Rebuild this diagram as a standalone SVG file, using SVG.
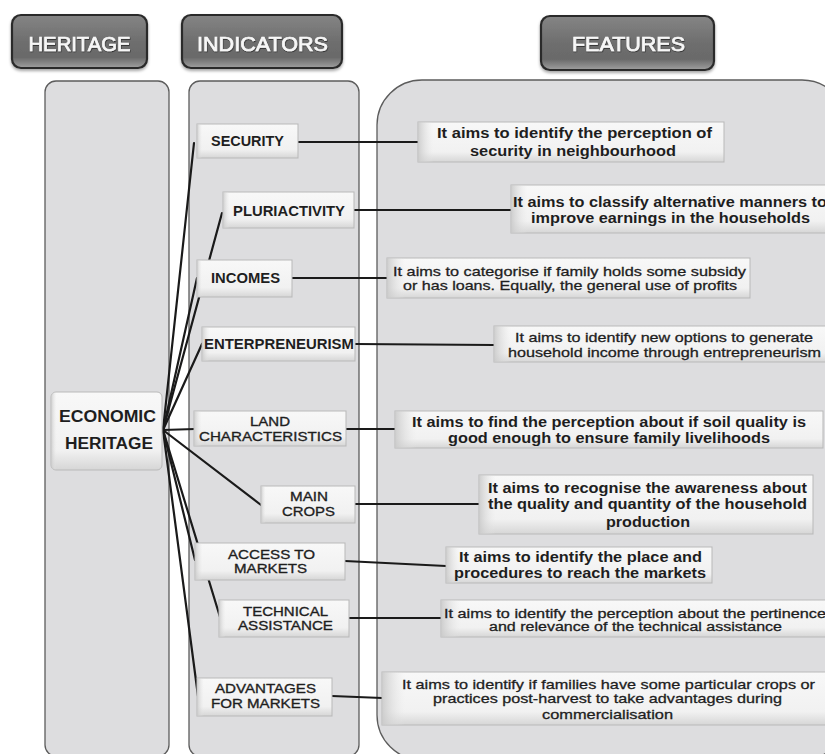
<svg xmlns="http://www.w3.org/2000/svg" width="825" height="754" viewBox="0 0 825 754">
<defs>
<linearGradient id="btnGrad" x1="0" y1="0" x2="0" y2="1">
<stop offset="0" stop-color="#858585"/>
<stop offset="0.5" stop-color="#6e6e6e"/>
<stop offset="0.8" stop-color="#6a6a6a"/>
<stop offset="1" stop-color="#a0a0a0"/>
</linearGradient>
<linearGradient id="nodeGrad" x1="0" y1="0" x2="0" y2="1">
<stop offset="0" stop-color="#f8f8f8"/>
<stop offset="0.75" stop-color="#f1f1f1"/>
<stop offset="1" stop-color="#d6d6d6"/>
</linearGradient>
<linearGradient id="leftBevel" x1="0" y1="0" x2="1" y2="0">
<stop offset="0" stop-color="#c9c9c9" stop-opacity="0.9"/>
<stop offset="0.05" stop-color="#e6e6e6" stop-opacity="0"/>
</linearGradient>
<filter id="shadow" x="-10%" y="-20%" width="120%" height="150%">
<feDropShadow dx="0" dy="2" stdDeviation="1.5" flood-color="#000" flood-opacity="0.35"/>
</filter>
<filter id="txtShadow" x="-5%" y="-20%" width="110%" height="150%">
<feDropShadow dx="0.5" dy="1" stdDeviation="0.6" flood-color="#222" flood-opacity="0.8"/>
</filter>
</defs>
<style>
.panel{fill:#dddddf;stroke:#5c5c5c;stroke-width:1.3}
.btn{fill:url(#btnGrad);stroke:#2a2a2a;stroke-width:2.2}
.btnText{font-family:"Liberation Sans",Arial,sans-serif;font-size:21px;fill:#f7f7f7;stroke:#f7f7f7;stroke-width:0.7;text-anchor:middle;filter:url(#txtShadow)}
.node{fill:url(#nodeGrad);stroke:#b9b9b9;stroke-width:1}
.bev{fill:url(#leftBevel);stroke:none}
.lbl{font-family:"Liberation Sans",Arial,sans-serif;font-size:14px;font-weight:bold;fill:#1e1e1e;text-anchor:middle}
.med{font-family:"Liberation Sans",Arial,sans-serif;font-size:13.5px;fill:#1e1e1e;stroke:#1e1e1e;stroke-width:0.35;text-anchor:middle}
.ft{font-family:"Liberation Sans",Arial,sans-serif;font-size:14px;font-weight:bold;fill:#1e1e1e;text-anchor:middle}
.fr{font-family:"Liberation Sans",Arial,sans-serif;font-size:13.5px;fill:#1e1e1e;stroke:#1e1e1e;stroke-width:0.3;text-anchor:middle}
.fs{font-family:"Liberation Sans",Arial,sans-serif;font-size:12.5px;fill:#1e1e1e;stroke:#1e1e1e;stroke-width:0.3;text-anchor:middle}
.big{font-family:"Liberation Sans",Arial,sans-serif;font-size:16px;font-weight:bold;fill:#1e1e1e;text-anchor:middle}
.conn line{stroke:#1a1a1a;stroke-width:2.2;stroke-linecap:round}
</style>
<rect width="825" height="754" fill="#ffffff"/>

<!-- Panels -->
<g id="panels">
<rect class="panel" x="45" y="81" width="124" height="675" rx="11"/>
<rect class="panel" x="189" y="81" width="170" height="675" rx="11"/>
<rect class="panel" x="377" y="80" width="470" height="680" rx="45"/>
</g>

<!-- Header buttons -->
<g id="hdr-heritage" filter="url(#shadow)">
<rect class="btn" x="12" y="15" width="135" height="53" rx="9"/>
<text class="btnText" x="79.5" y="50.5" textLength="102" lengthAdjust="spacingAndGlyphs">HERITAGE</text>
</g>
<g id="hdr-indicators" filter="url(#shadow)">
<rect class="btn" x="182" y="15" width="160" height="53" rx="9"/>
<text class="btnText" x="262.5" y="50.5" textLength="131" lengthAdjust="spacingAndGlyphs">INDICATORS</text>
</g>
<g id="hdr-features" filter="url(#shadow)">
<rect class="btn" x="541" y="16" width="173" height="54" rx="9"/>
<text class="btnText" x="628.5" y="51" textLength="113" lengthAdjust="spacingAndGlyphs">FEATURES</text>
</g>

<!-- Connectors -->
<g id="connectors" class="conn">
<line x1="163" y1="430" x2="194" y2="143"/>
<line x1="163" y1="430" x2="222" y2="213"/>
<line x1="163" y1="430" x2="197" y2="278"/>
<line x1="163" y1="430" x2="202" y2="344"/>
<line x1="163" y1="430" x2="195" y2="429"/>
<line x1="163" y1="430" x2="261" y2="505"/>
<line x1="163" y1="430" x2="195" y2="560"/>
<line x1="163" y1="430" x2="220" y2="617"/>
<line x1="163" y1="430" x2="198" y2="696"/>
<line x1="298" y1="142" x2="418" y2="142"/>
<line x1="354" y1="210" x2="511" y2="210"/>
<line x1="292" y1="278" x2="387" y2="278"/>
<line x1="355" y1="344" x2="494" y2="345"/>
<line x1="346" y1="429" x2="395" y2="429"/>
<line x1="355" y1="504" x2="479" y2="504"/>
<line x1="345" y1="561" x2="446" y2="566"/>
<line x1="349" y1="618" x2="441" y2="618"/>
<line x1="332" y1="696" x2="382" y2="698"/>
</g>

<!-- Heritage node -->
<g id="economic-heritage">
<rect class="node" x="51" y="392" width="111" height="78" rx="5"/>
<rect class="bev" x="51" y="392" width="111" height="78" rx="5"/>
<text class="big" x="107.5" y="422" textLength="97" lengthAdjust="spacingAndGlyphs">ECONOMIC</text>
<text class="big" x="109" y="449" textLength="88" lengthAdjust="spacingAndGlyphs">HERITAGE</text>
</g>

<!-- Indicator nodes -->
<g id="security">
<rect class="node" x="197" y="124" width="101" height="34"/>
<rect class="bev" x="197" y="124" width="101" height="34"/>
<text class="lbl" x="247.5" y="146" textLength="73" lengthAdjust="spacingAndGlyphs">SECURITY</text>
</g>
<g id="pluriactivity">
<rect class="node" x="223" y="192" width="131" height="36"/>
<rect class="bev" x="223" y="192" width="131" height="36"/>
<text class="lbl" x="289" y="216" textLength="112" lengthAdjust="spacingAndGlyphs">PLURIACTIVITY</text>
</g>
<g id="incomes">
<rect class="node" x="197" y="260" width="95" height="37"/>
<rect class="bev" x="197" y="260" width="95" height="37"/>
<text class="lbl" x="245.5" y="283" textLength="69" lengthAdjust="spacingAndGlyphs">INCOMES</text>
</g>
<g id="entrepreneurism">
<rect class="node" x="202" y="327" width="153" height="34"/>
<rect class="bev" x="202" y="327" width="153" height="34"/>
<text class="lbl" x="279" y="349" textLength="150" lengthAdjust="spacingAndGlyphs">ENTERPRENEURISM</text>
</g>
<g id="land-characteristics">
<rect class="node" x="194" y="411" width="152" height="35"/>
<rect class="bev" x="194" y="411" width="152" height="35"/>
<text class="med" x="270" y="426" textLength="40" lengthAdjust="spacingAndGlyphs">LAND</text>
<text class="med" x="270.5" y="441" textLength="143" lengthAdjust="spacingAndGlyphs">CHARACTERISTICS</text>
</g>
<g id="main-crops">
<rect class="node" x="261" y="486" width="94" height="37"/>
<rect class="bev" x="261" y="486" width="94" height="37"/>
<text class="med" x="309" y="501" textLength="38" lengthAdjust="spacingAndGlyphs">MAIN</text>
<text class="med" x="308.5" y="516" textLength="53" lengthAdjust="spacingAndGlyphs">CROPS</text>
</g>
<g id="access-to-markets">
<rect class="node" x="195" y="543" width="150" height="37"/>
<rect class="bev" x="195" y="543" width="150" height="37"/>
<text class="med" x="271.5" y="559" textLength="87" lengthAdjust="spacingAndGlyphs">ACCESS TO</text>
<text class="med" x="270.5" y="573" textLength="73" lengthAdjust="spacingAndGlyphs">MARKETS</text>
</g>
<g id="technical-assistance">
<rect class="node" x="219" y="600" width="130" height="37"/>
<rect class="bev" x="219" y="600" width="130" height="37"/>
<text class="med" x="285.5" y="616" textLength="85" lengthAdjust="spacingAndGlyphs">TECHNICAL</text>
<text class="med" x="285.5" y="630" textLength="95" lengthAdjust="spacingAndGlyphs">ASSISTANCE</text>
</g>
<g id="advantages-for-markets">
<rect class="node" x="197" y="678" width="135" height="38"/>
<rect class="bev" x="197" y="678" width="135" height="38"/>
<text class="med" x="265.5" y="693" textLength="101" lengthAdjust="spacingAndGlyphs">ADVANTAGES</text>
<text class="med" x="265.5" y="708" textLength="109" lengthAdjust="spacingAndGlyphs">FOR MARKETS</text>
</g>

<!-- Feature nodes -->
<g id="f-security">
<rect class="node" x="418" y="122" width="306" height="40"/>
<rect class="bev" x="418" y="122" width="306" height="40"/>
<text class="ft" x="574.5" y="138" textLength="275" lengthAdjust="spacingAndGlyphs">It aims to identify the perception of</text>
<text class="ft" x="573" y="156" textLength="206" lengthAdjust="spacingAndGlyphs">security in neighbourhood</text>
</g>
<g id="f-pluriactivity">
<rect class="node" x="511" y="185" width="330" height="48"/>
<rect class="bev" x="511" y="185" width="330" height="48"/>
<text class="ft" x="670" y="207" textLength="314" lengthAdjust="spacingAndGlyphs">It aims to classify alternative manners to</text>
<text class="ft" x="670.5" y="223" textLength="279" lengthAdjust="spacingAndGlyphs">improve earnings in the households</text>
</g>
<g id="f-incomes">
<rect class="node" x="387" y="258" width="363" height="40"/>
<rect class="bev" x="387" y="258" width="363" height="40"/>
<text class="fr" x="569.5" y="276" textLength="353" lengthAdjust="spacingAndGlyphs">It aims to categorise if family holds some subsidy</text>
<text class="fr" x="570" y="290" textLength="334" lengthAdjust="spacingAndGlyphs">or has loans. Equally, the general use of profits</text>
</g>
<g id="f-entrepreneurism">
<rect class="node" x="494" y="326" width="345" height="36"/>
<rect class="bev" x="494" y="326" width="345" height="36"/>
<text class="fr" x="664" y="342" textLength="298" lengthAdjust="spacingAndGlyphs">It aims to identify new options to generate</text>
<text class="fr" x="664.5" y="357" textLength="313" lengthAdjust="spacingAndGlyphs">household income through entrepreneurism</text>
</g>
<g id="f-land">
<rect class="node" x="395" y="411" width="428" height="37"/>
<rect class="bev" x="395" y="411" width="428" height="37"/>
<text class="ft" x="609" y="427" textLength="394" lengthAdjust="spacingAndGlyphs">It aims to find the perception about if soil quality is</text>
<text class="ft" x="609" y="443" textLength="322" lengthAdjust="spacingAndGlyphs">good enough to ensure family livelihoods</text>
</g>
<g id="f-main-crops">
<rect class="node" x="479" y="475" width="334" height="59"/>
<rect class="bev" x="479" y="475" width="334" height="59"/>
<text class="ft" x="647.5" y="493" textLength="319" lengthAdjust="spacingAndGlyphs">It aims to recognise the awareness about</text>
<text class="ft" x="647.5" y="509" textLength="319" lengthAdjust="spacingAndGlyphs">the quality and quantity of the household</text>
<text class="ft" x="648" y="527" textLength="84" lengthAdjust="spacingAndGlyphs">production</text>
</g>
<g id="f-access">
<rect class="node" x="446" y="547" width="266" height="36"/>
<rect class="bev" x="446" y="547" width="266" height="36"/>
<text class="ft" x="580.5" y="562" textLength="243" lengthAdjust="spacingAndGlyphs">It aims to identify the place and</text>
<text class="ft" x="580" y="578" textLength="252" lengthAdjust="spacingAndGlyphs">procedures to reach the markets</text>
</g>
<g id="f-technical">
<rect class="node" x="441" y="600" width="400" height="37"/>
<rect class="bev" x="441" y="600" width="400" height="37"/>
<text class="fs" x="635" y="618" textLength="382" lengthAdjust="spacingAndGlyphs">It aims to identify the perception about the pertinence</text>
<text class="fs" x="635.5" y="631" textLength="293" lengthAdjust="spacingAndGlyphs">and relevance of the technical assistance</text>
</g>
<g id="f-advantages">
<rect class="node" x="382" y="672" width="459" height="53"/>
<rect class="bev" x="382" y="672" width="459" height="53"/>
<text class="fr" x="608.5" y="689" textLength="413" lengthAdjust="spacingAndGlyphs">It aims to identify if families have some particular crops or</text>
<text class="fr" x="607.5" y="703" textLength="349" lengthAdjust="spacingAndGlyphs">practices post-harvest to take advantages during</text>
<text class="fr" x="607.5" y="719" textLength="131" lengthAdjust="spacingAndGlyphs">commercialisation</text>
</g>
</svg>
